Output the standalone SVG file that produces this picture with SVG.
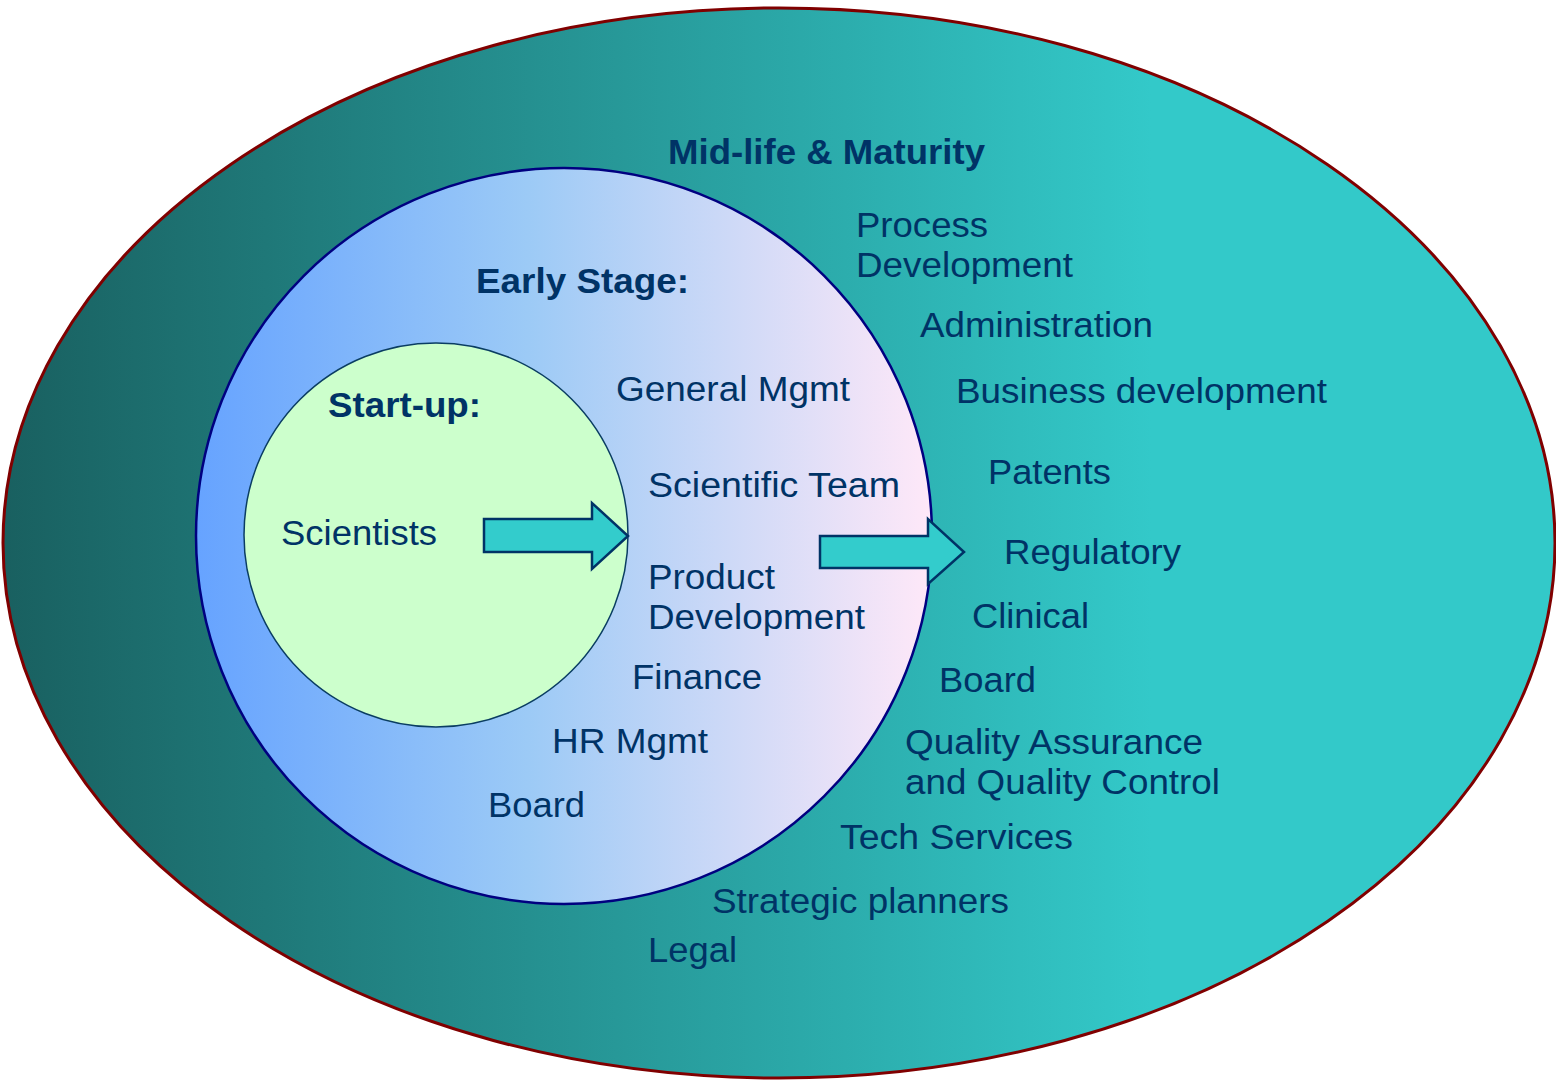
<svg xmlns="http://www.w3.org/2000/svg" width="1556" height="1081" viewBox="0 0 1556 1081">
<defs>
<linearGradient id="gOuter" x1="0" y1="0" x2="1" y2="0">
<stop offset="0" stop-color="#196060"/>
<stop offset="0.74" stop-color="#33c9c9"/>
<stop offset="1" stop-color="#33c9c9"/>
</linearGradient>
<linearGradient id="gMid" x1="0" y1="0" x2="1" y2="0">
<stop offset="0" stop-color="#66a3ff"/>
<stop offset="0.45" stop-color="#9ccaf6"/>
<stop offset="1" stop-color="#ffe8f8"/>
</linearGradient>
<style>
.t{font-family:"Liberation Sans",Arial,sans-serif;font-size:35.5px;fill:#003366}
.b{font-weight:bold}
.arrow{fill:#33cccc;stroke:#003366;stroke-width:2.5;stroke-linejoin:miter}
</style>
</defs>
<g id="outer">
<ellipse cx="779" cy="543" rx="776" ry="535" fill="url(#gOuter)" stroke="#800000" stroke-width="3"/>
</g>
<g id="early">
<ellipse cx="564" cy="536" rx="368" ry="368" fill="url(#gMid)" stroke="#000080" stroke-width="2.5"/>
</g>
<g id="startup">
<circle cx="436" cy="535" r="192" fill="#ccffcc" stroke="#0a3d62" stroke-width="1.5"/>
</g>
<g id="connectors">
<polygon class="arrow" points="484,519 592,519 592,503 628,536 592,569 592,552 484,552"/>
<polygon class="arrow" points="820,536 928,536 928,519 964,552 928,584 928,568 820,568"/>
</g>
<g id="labels-outer">
<text class="t b" x="668" y="164" textLength="317" lengthAdjust="spacingAndGlyphs">Mid-life &amp; Maturity</text>
<text class="t" x="856" y="237" textLength="132" lengthAdjust="spacingAndGlyphs">Process</text>
<text class="t" x="856" y="277" textLength="217" lengthAdjust="spacingAndGlyphs">Development</text>
<text class="t" x="920" y="337" textLength="233" lengthAdjust="spacingAndGlyphs">Administration</text>
<text class="t" x="956" y="403" textLength="371" lengthAdjust="spacingAndGlyphs">Business development</text>
<text class="t" x="988" y="484" textLength="123" lengthAdjust="spacingAndGlyphs">Patents</text>
<text class="t" x="1004" y="564" textLength="177" lengthAdjust="spacingAndGlyphs">Regulatory</text>
<text class="t" x="972" y="628" textLength="117" lengthAdjust="spacingAndGlyphs">Clinical</text>
<text class="t" x="939" y="692" textLength="97" lengthAdjust="spacingAndGlyphs">Board</text>
<text class="t" x="905" y="754" textLength="298" lengthAdjust="spacingAndGlyphs">Quality Assurance</text>
<text class="t" x="905" y="794" textLength="315" lengthAdjust="spacingAndGlyphs">and Quality Control</text>
<text class="t" x="840" y="849" textLength="233" lengthAdjust="spacingAndGlyphs">Tech Services</text>
<text class="t" x="712" y="913" textLength="297" lengthAdjust="spacingAndGlyphs">Strategic planners</text>
<text class="t" x="648" y="962" textLength="89" lengthAdjust="spacingAndGlyphs">Legal</text>
</g>
<g id="labels-early">
<text class="t b" x="476" y="293" textLength="213" lengthAdjust="spacingAndGlyphs">Early Stage:</text>
<text class="t" x="616" y="401" textLength="234" lengthAdjust="spacingAndGlyphs">General Mgmt</text>
<text class="t" x="648" y="497" textLength="252" lengthAdjust="spacingAndGlyphs">Scientific Team</text>
<text class="t" x="648" y="589" textLength="127" lengthAdjust="spacingAndGlyphs">Product</text>
<text class="t" x="648" y="629" textLength="217" lengthAdjust="spacingAndGlyphs">Development</text>
<text class="t" x="632" y="689" textLength="130" lengthAdjust="spacingAndGlyphs">Finance</text>
<text class="t" x="552" y="753" textLength="156" lengthAdjust="spacingAndGlyphs">HR Mgmt</text>
<text class="t" x="488" y="817" textLength="97" lengthAdjust="spacingAndGlyphs">Board</text>
</g>
<g id="labels-startup">
<text class="t b" x="328" y="417" textLength="153" lengthAdjust="spacingAndGlyphs">Start-up:</text>
<text class="t" x="281" y="545" textLength="156" lengthAdjust="spacingAndGlyphs">Scientists</text>
</g>
</svg>
